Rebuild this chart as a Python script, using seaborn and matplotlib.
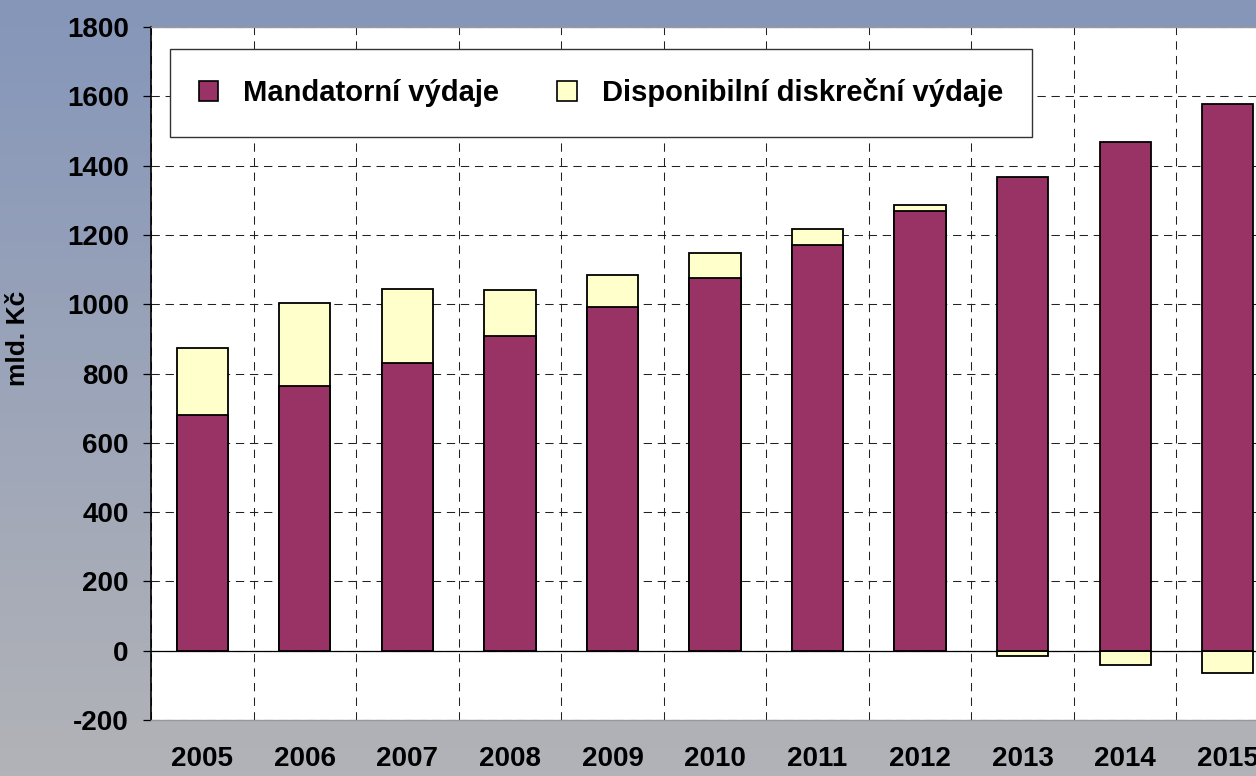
import numpy as np
import pandas as pd
import matplotlib
matplotlib.use("Agg")
import matplotlib.pyplot as plt
from matplotlib.patches import Patch
import seaborn as sns

# Data (mld. Kč)
years = ["2005", "2006", "2007", "2008", "2009", "2010",
         "2011", "2012", "2013", "2014", "2015"]
mandatory = [680, 764, 831, 908, 992, 1077, 1171, 1268, 1368, 1469, 1578]
discretionary = [194, 240, 213, 134, 92, 71, 45, 18, -16, -42, -63]

y_ticks = [-200, 0, 200, 400, 600, 800, 1000, 1200, 1400, 1600, 1800]
legend_labels = ["Mandatorní výdaje", "Disponibilní diskreční výdaje"]

MAROON = "#993366"
CREAM = "#FFFFCC"

sns.set_style("white")
plt.rcParams["font.family"] = ["Liberation Sans", "DejaVu Sans"]
plt.rcParams["font.weight"] = "bold"
plt.rcParams["text.color"] = "black"
plt.rcParams["axes.labelcolor"] = "black"
plt.rcParams["xtick.color"] = "black"
plt.rcParams["ytick.color"] = "black"

df = pd.DataFrame({"year": years, "mand": mandatory, "disc": discretionary})
# discretionary sits on top of mandatory when positive, hangs below zero when negative
df["disc_top"] = np.where(df["disc"] > 0, df["mand"] + df["disc"], df["disc"])

fig = plt.figure(figsize=(12.56, 7.76), dpi=100)

# background gradient (blue-grey at the top, grey at the bottom)
bg = fig.add_axes([0, 0, 1, 1], zorder=-10)
top_c = np.array([133, 150, 186]) / 255
bot_c = np.array([178, 179, 183]) / 255
t = np.linspace(0, 1, 256)[:, None]
grad = (top_c[None, :] * (1 - t) + bot_c[None, :] * t)[:, None, :]
bg.imshow(grad, aspect="auto", extent=[0, 1, 0, 1])
bg.set_axis_off()

ax = fig.add_axes([151 / 1256, 56 / 776, 1128 / 1256, 693 / 776])
ax.set_facecolor("white")

bar_kw = dict(width=0.5, edgecolor="black", linewidth=1.3, ax=ax, zorder=3)
sns.barplot(data=df, x="year", y="disc_top", color=CREAM, saturation=1, **bar_kw)
sns.barplot(data=df, x="year", y="mand", color=MAROON, saturation=1, **bar_kw)

ax.set_xlim(-0.5, len(years) - 0.5)
ax.set_ylim(-200, 1800)
ax.set_yticks(y_ticks)
ax.set_yticklabels([str(v) for v in y_ticks], fontsize=20, fontweight="bold", color="black")
ax.set_xticklabels(years, fontsize=20, fontweight="bold", color="black")

# dashed grid: horizontal at major y ticks, vertical between categories
ax.set_xticks(np.arange(len(years) + 1) - 0.5, minor=True)
ax.grid(False)
ax.yaxis.grid(True, which="major", linestyle=(0, (8, 5.5)), color="#222222", linewidth=0.75, zorder=1)
ax.xaxis.grid(True, which="minor", linestyle=(0, (8, 6)), color="#222222", linewidth=0.75, zorder=1)
ax.set_axisbelow(True)
ax.axhline(0, color="black", linewidth=0.9, zorder=2)

ax.tick_params(axis="y", which="major", direction="out", length=6, width=0.9,
               color="black", pad=10, left=True)
ax.tick_params(axis="x", which="both", length=0, pad=19)

ax.spines["right"].set_visible(False)
ax.spines["top"].set_color("#9a9a9a")
ax.spines["top"].set_linewidth(1.0)
ax.spines["left"].set_color("black")
ax.spines["left"].set_linewidth(1.2)
ax.spines["bottom"].set_color("#999999")
ax.spines["bottom"].set_linewidth(1.0)

ax.set_xlabel("")
ax.set_ylabel("mld. Kč", fontsize=19, fontweight="bold", color="black")
ax.yaxis.set_label_coords(-0.107, 0.55)

handles = [Patch(facecolor=MAROON, edgecolor="black", linewidth=1.2),
           Patch(facecolor=CREAM, edgecolor="black", linewidth=1.2)]
leg = ax.legend(handles, legend_labels, loc="upper left", bbox_to_anchor=(0.0168, 0.968),
                borderaxespad=0, ncol=2, frameon=True, fancybox=False, shadow=False,
                prop={"size": 21, "weight": "bold"}, handlelength=0.66, handleheight=0.66,
                handletextpad=0.85, columnspacing=2.0, borderpad=1.0)
for txt in leg.get_texts():
    txt.set_color("black")
leg.get_frame().set_edgecolor("#333333")
leg.get_frame().set_linewidth(1.0)
leg.get_frame().set_facecolor("white")
leg.get_frame().set_alpha(1)
leg.set_zorder(5)

fig.savefig("out.png", dpi=100)
